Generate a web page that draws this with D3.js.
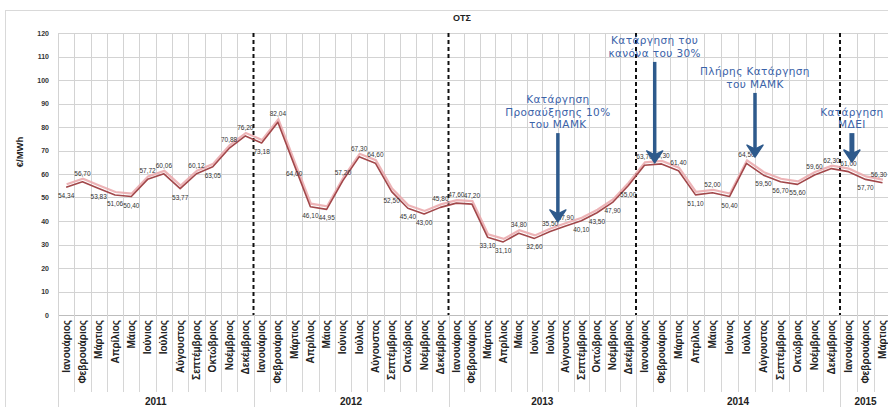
<!DOCTYPE html>
<html>
<head>
<meta charset="utf-8">
<script src="https://cdn.jsdelivr.net/npm/d3@7/dist/d3.min.js"></script>
<style>
  body { margin: 0; background: #fff; }
  svg { display: block; font-family: "Liberation Sans", Arial, sans-serif; }
</style>
</head>
<body>
<svg id="chart" width="888" height="407"></svg>
<script>
// Monthly System Marginal Price (ΟΤΣ), €/MWh
const years = ["2011", "2012", "2013", "2014", "2015"];
const monthNames = ["Ιανουάριος", "Φεβρουάριος", "Μάρτιος", "Απρίλιος", "Μάιος", "Ιούνιος",
  "Ιούλιος", "Αύγουστος", "Σεπτέμβριος", "Οκτώβριος", "Νοέμβριος", "Δεκέμβριος"];
const smp2011 = [54.34, 56.70, 53.83, 51.06, 50.40, 57.72, 60.06, 53.77, 60.12, 63.05, 70.88, 76.20];
const smp2012 = [73.18, 82.04, 64.00, 46.10, 44.95, 57.20, 67.30, 64.60, 52.50, 45.40, 43.00, 45.80];
const smp2013 = [47.60, 47.20, 33.10, 31.10, 34.80, 32.60, 35.50, 37.90, 40.10, 43.50, 47.90, 55.00];
const smp2014 = [63.70, 64.30, 61.40, 51.10, 52.00, 50.40, 64.50, 59.50, 56.70, 55.60, 59.60, 62.30];
const smp2015 = [61.00, 57.70, 56.30];
const yTicks = [0, 10, 20, 30, 40, 50, 60, 70, 80, 90, 100, 110, 120];

// Regulatory events: month position (index from Jan 2011), arrow top/tip in €/MWh
const events = [
  { pos: 31.0, top: 77.4, tip: 39.6, lines: ["Κατάργηση", "Προσαύξησης 10%", "του ΜΑΜΚ"] },
  { pos: 37.1, top: 107.7, tip: 64.7, lines: ["Κατάργηση του", "κανόνα του 30%"] },
  { pos: 43.0, top: 94.5, tip: 67.2, lines: ["Πλήρης Κατάργηση", "του ΜΑΜΚ"] },
  { pos: 48.7, top: 77.4, tip: 65.1, lines: ["Κατάργηση", "ΜΔΕΙ"], heavy: true }
];

const smp = [].concat(smp2011, smp2012, smp2013, smp2014, smp2015);
const nMonths = smp.length;

const svg = d3.select("#chart");
const W = 888, H = 407;

// month boundaries -> pixels; year boundaries anchor the scale
const x = d3.scaleLinear().domain([0, 12, 24, 36, 48]).range([58, 253.5, 448.5, 636, 840]);
const y = d3.scaleLinear().domain([0, 120]).range([315, 33]);
const xc = i => x(i + 0.5);

// outer frame
svg.append("rect").attr("x", 5.5).attr("y", 10.5).attr("width", W + 10).attr("height", H + 10)
  .attr("fill", "none").attr("stroke", "#d9d9d9");

// title
svg.append("text").attr("x", 462).attr("y", 21).attr("text-anchor", "middle")
  .attr("font-size", 9).attr("font-weight", "bold").attr("fill", "#222").text("ΟΤΣ");

// horizontal gridlines
svg.append("g").selectAll("line").data(yTicks).join("line")
  .attr("x1", x(0)).attr("x2", W).attr("y1", d => Math.round(y(d)) + 0.5).attr("y2", d => Math.round(y(d)) + 0.5)
  .attr("stroke", d => d === 0 ? "#bdbdbd" : "#d3d3d3").attr("stroke-width", 1);

// vertical month gridlines (year boundaries drawn dashed below)
const bounds = d3.range(0, nMonths + 1);
svg.append("g").selectAll("line").data(bounds.filter(b => b % 12 !== 0 || b === 0)).join("line")
  .attr("x1", d => Math.round(x(d)) + 0.5).attr("x2", d => Math.round(x(d)) + 0.5)
  .attr("y1", y(120)).attr("y2", y(0))
  .attr("stroke", "#d3d3d3");

// tick separators in the category area
svg.append("g").selectAll("line").data(bounds).join("line")
  .attr("x1", d => Math.round(x(d)) + 0.5).attr("x2", d => Math.round(x(d)) + 0.5)
  .attr("y1", y(0)).attr("y2", d => d % 12 === 0 ? H : 392)
  .attr("stroke", "#d6d6d6");

// dashed year separators
svg.append("g").selectAll("line").data([12, 24, 36, 48]).join("line")
  .attr("x1", d => x(d)).attr("x2", d => x(d))
  .attr("y1", y(120)).attr("y2", y(0))
  .attr("stroke", "#111").attr("stroke-width", 2).attr("stroke-dasharray", "4,3");

// y axis labels
const yAxis = d3.axisLeft(y).tickValues(yTicks).tickSize(0).tickPadding(0).tickFormat(d3.format("d"));
const gy = svg.append("g").attr("transform", `translate(${x(0) - 9},0)`).call(yAxis);
gy.select(".domain").remove();
gy.selectAll("text").attr("font-size", 7).attr("font-weight", "bold").attr("fill", "#333")
  .attr("font-family", "'Liberation Sans', Arial, sans-serif");

// y axis title
svg.append("text").attr("transform", "translate(23,152) rotate(-90)").attr("text-anchor", "middle")
  .attr("font-size", 9.5).attr("font-weight", "bold").attr("fill", "#222").text("€/MWh");

// month labels
svg.append("g").selectAll("text").data(d3.range(nMonths)).join("text")
  .attr("transform", i => `translate(${xc(i) + 3.5},${y(0) + 5}) rotate(-90)`)
  .attr("text-anchor", "end").attr("font-size", 10).attr("font-weight", "bold").attr("fill", "#222")
  .text(i => monthNames[i % 12]);

// year labels
svg.append("g").selectAll("text").data(years).join("text")
  .attr("x", (d, k) => (x(k * 12) + x(Math.min((k + 1) * 12, nMonths))) / 2)
  .attr("y", 405).attr("text-anchor", "middle")
  .attr("font-size", 10).attr("font-weight", "bold").attr("fill", "#222").text(d => d);

// price line with soft pink offset halo
const line = d3.line().x((d, i) => xc(i)).y(d => y(d));
svg.append("path").datum(smp).attr("d", line).attr("transform", "translate(0.5,-3)")
  .attr("fill", "none").attr("stroke", "#eaa7aa").attr("stroke-width", 2.2).attr("opacity", 0.85);
svg.append("path").datum(smp).attr("d", line)
  .attr("fill", "none").attr("stroke", "#a2474a").attr("stroke-width", 1.6).attr("stroke-linejoin", "round");

// data labels: above local highs, below local lows; the last one sits above, inside the frame
const fmt = v => v.toFixed(2).replace(".", ",");
const last = nMonths - 1;
svg.append("g").selectAll("text").data(smp).join("text")
  .attr("x", (d, i) => i === last ? W - 1 : xc(i))
  .attr("y", (d, i) => {
    if (i === last) return y(d) - 6;
    const prev = i > 0 ? smp[i - 1] : d, next = smp[i + 1];
    return d >= (prev + next) / 2 ? y(d) - 6 : y(d) + 11;
  })
  .attr("text-anchor", (d, i) => i === last ? "end" : "middle")
  .attr("font-size", 6.5).attr("fill", "#333").text(fmt);

// event annotations
const ev = svg.append("g");
events.forEach(e => {
  const ax = x(e.pos), top = y(e.top), tip = y(e.tip);
  const sw = e.heavy ? 5 : 3.5;
  ev.append("line").attr("x1", ax).attr("x2", ax).attr("y1", top).attr("y2", tip - 8)
    .attr("stroke", "#2e5a8c").attr("stroke-width", sw);
  ev.append("path")
    .attr("d", `M${ax},${tip} L${ax - 8},${tip - 12} L${ax},${tip - 8} L${ax + 8},${tip - 12} Z`)
    .attr("fill", "#2e5a8c").attr("stroke", "#2e5a8c").attr("stroke-width", 1.5).attr("stroke-linejoin", "round");
  const n = e.lines.length;
  ev.append("g").selectAll("text").data(e.lines).join("text")
    .attr("x", ax).attr("y", (d, k) => top - 5 - (n - 1 - k) * 12.5)
    .attr("text-anchor", "middle").attr("font-size", 10.5).attr("letter-spacing", 0.4)
    .attr("font-family", "'DejaVu Sans', sans-serif").attr("fill", "#3a62a8").text(d => d);
});
</script>
</body>
</html>
